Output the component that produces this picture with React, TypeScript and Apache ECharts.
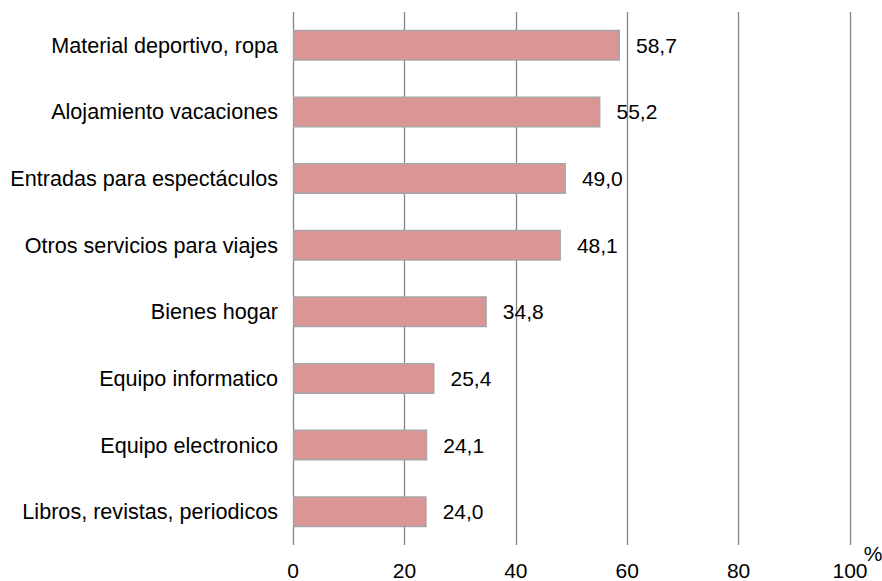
import React, { useEffect, useRef } from "react";
import * as echarts from "echarts";

const categories = [
  "Material deportivo, ropa",
  "Alojamiento vacaciones",
  "Entradas para espectáculos",
  "Otros servicios para viajes",
  "Bienes hogar",
  "Equipo informatico",
  "Equipo electronico",
  "Libros, revistas, periodicos",
];
const values = [58.7, 55.2, 49.0, 48.1, 34.8, 25.4, 24.1, 24.0];
const xTicks = [0, 20, 40, 60, 80, 100];

const FONT = "'Liberation Sans', Arial, sans-serif";
const FS = 21;

export default function App() {
  const ref = useRef<HTMLDivElement>(null);
  useEffect(() => {
    if (!ref.current) return;
    const chart = echarts.init(ref.current, undefined, { renderer: "svg" });
    chart.setOption({
      animation: false,
      backgroundColor: "#ffffff",
      grid: { left: 293, right: 32, top: 12, bottom: 35, containLabel: false },
      xAxis: {
        type: "value",
        min: xTicks[0],
        max: xTicks[xTicks.length - 1],
        interval: 20,
        axisLine: { show: false },
        axisTick: { show: false },
        splitLine: { show: true, lineStyle: { color: "#868686", width: 1.3 } },
        axisLabel: { margin: 15, fontSize: FS, color: "#000", fontFamily: FONT },
      },
      yAxis: {
        type: "category",
        data: categories,
        inverse: true,
        axisLine: { show: false },
        axisTick: { show: false },
        axisLabel: { margin: 15, fontSize: 21.6, color: "#000", fontFamily: FONT },
      },
      series: [
        {
          type: "bar",
          data: values,
          barWidth: 31,
          itemStyle: { color: "#D99694", borderColor: "#A6A6A6", borderWidth: 1.5 },
          label: {
            show: true,
            position: "right",
            distance: 16,
            fontSize: FS,
            color: "#000",
            fontFamily: FONT,
            formatter: (p: any) => p.value.toFixed(1).replace(".", ","),
          },
        },
      ],
      graphic: [
        {
          type: "text",
          x: 873,
          y: 553,
          style: {
            text: "%",
            fontSize: FS,
            fill: "#000",
            fontFamily: FONT,
            align: "center",
            verticalAlign: "middle",
          },
        },
      ],
    });
    return () => chart.dispose();
  }, []);
  return (
    <div
      ref={ref}
      style={{ position: "fixed", left: 0, top: 0, width: 882, height: 581 }}
    />
  );
}
